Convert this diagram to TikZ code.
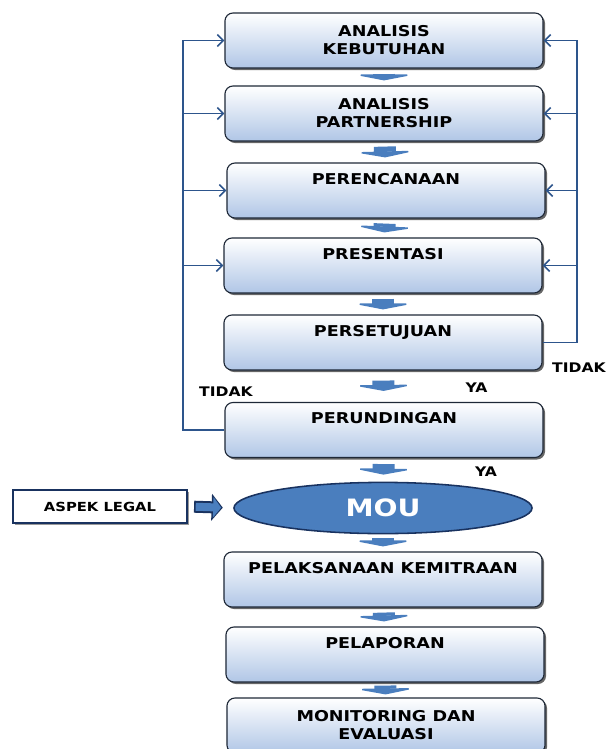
\documentclass[tikz,border=0pt]{standalone}
\usepackage{fontspec}
\setmainfont{DejaVu Sans}[FakeStretch=1.18]
\usetikzlibrary{arrows.meta,shadows,shapes.geometric}
\definecolor{garisbiru}{RGB}{45,85,140}
\definecolor{isibiru}{RGB}{74,126,190}
\definecolor{dasarbiru}{RGB}{176,198,230}
\definecolor{tepi}{RGB}{30,40,55}
\definecolor{tepimou}{RGB}{25,50,95}

\begin{document}
\begin{tikzpicture}[x=0.025cm, y=-0.025cm,
    proses/.style={rectangle, rounded corners=0.2cm, draw=tepi, line width=0.8pt,
        top color=white, bottom color=dasarbiru,
        minimum width=7.95cm, minimum height=1.375cm, align=center,
        font=\bfseries\fontsize{10.6}{12.8}\selectfont,
        drop shadow={shadow xshift=0.05cm, shadow yshift=-0.05cm, fill=black, opacity=0.6}},
    atas/.style={inner ysep=0pt, text height=0.53cm, text depth=0.845cm},
    mou/.style={ellipse, draw=tepimou, line width=1.1pt, fill=isibiru, text=white,
        minimum width=7.45cm, minimum height=1.28cm, inner sep=0pt,
        font=\bfseries\fontsize{17}{20}\selectfont},
    legal/.style={rectangle, draw=tepimou, line width=1.5pt, fill=white,
        minimum width=4.35cm, minimum height=0.825cm,
        font=\bfseries\fontsize{8.9}{10}\selectfont,
        drop shadow={shadow xshift=0.04cm, shadow yshift=-0.04cm, fill=black, opacity=0.4}},
    ket/.style={font=\bfseries\fontsize{9.4}{11}\selectfont},
    panah/.style={draw=isibiru, line width=0.55cm,
        -{Triangle[width=1.55cm,length=0.15cm]},
        shorten <=0.125cm, shorten >=0.125cm},
    balik/.style={draw=garisbiru, line width=1.1pt,
        -{Straight Barb[length=0.15cm,width=0.3cm]}},
    panahlegal/.style={draw=tepimou, line width=0.3cm,
        -{Triangle[width=0.66cm,length=0.28cm]},
        shorten <=0.15cm, shorten >=0.26cm,
        postaction={draw=isibiru, line width=0.2cm,
            -{Triangle[width=0.5cm,length=0.2cm]},
            shorten <=0.19cm, shorten >=0.3cm}}]
    \useasboundingbox (0,0) rectangle (606,749);
    % nodes
    \node[proses] (kebutuhan) at (384, 40.5) {ANALISIS\\KEBUTUHAN};
    \node[proses] (partnership) at (384, 113.5) {ANALISIS\\PARTNERSHIP};
    \node[proses, atas] (perencanaan) at (386, 190.5) {PERENCANAAN};
    \node[proses, atas] (presentasi) at (383, 265.5) {PRESENTASI};
    \node[proses, atas] (persetujuan) at (383, 342.5) {PERSETUJUAN};
    \node[proses, atas] (perundingan) at (384, 430) {PERUNDINGAN};
    \node[mou] (mou) at (383, 508) {MOU};
    \node[legal] (aspek) at (100, 506.5) {ASPEK LEGAL};
    \node[proses, atas] (pelaksanaan) at (383, 579.5) {PELAKSANAAN KEMITRAAN};
    \node[proses, atas] (pelaporan) at (385, 654.5) {PELAPORAN};
    \node[proses] (monitoring) at (386, 725.5) {MONITORING DAN\\EVALUASI};
    % labels
    \node[ket] (tidakkiri) at (226, 391.5) {TIDAK};
    \node[ket] (ya1) at (476.5, 387.5) {YA};
    \node[ket] (tidakkanan) at (579, 368) {TIDAK};
    \node[ket] (ya2) at (486, 472) {YA};
    \coordinate (kiri) at (183, 0);
    \coordinate (kanan) at (577, 0);
    % arrows
    \draw[panah] (kebutuhan) -- (partnership);
    \draw[panah] (partnership) -- (perencanaan);
    \draw[panah] (perencanaan) -- (presentasi);
    \draw[panah] (presentasi) -- (persetujuan);
    \draw[panah, shorten <=0.25cm, shorten >=0.275cm] (persetujuan) -- (perundingan);
    \draw[panah, shorten <=0.15cm, shorten >=0.175cm] (perundingan) -- (mou);
    \draw[panah, shorten <=0.1cm] (mou) -- (pelaksanaan);
    \draw[panah] (pelaksanaan) -- (pelaporan);
    \draw[panah, shorten <=0.075cm, shorten >=0.075cm] (pelaporan) -- (monitoring);
    \draw[panahlegal] (aspek.east) -- (mou.west);
    % feedback lines
    \draw[balik] (perundingan.west) -- (perundingan.west -| kiri)
        -- (kebutuhan.west -| kiri) -- (kebutuhan.west);
    \draw[balik] (partnership.west -| kiri) -- (partnership.west);
    \draw[balik] (perencanaan.west -| kiri) -- (perencanaan.west);
    \draw[balik] (presentasi.west -| kiri) -- (presentasi.west);
    \draw[balik] (persetujuan.east) -- (persetujuan.east -| kanan)
        -- (kebutuhan.east -| kanan) -- (kebutuhan.east);
    \draw[balik] (partnership.east -| kanan) -- (partnership.east);
    \draw[balik] (perencanaan.east -| kanan) -- (perencanaan.east);
    \draw[balik] (presentasi.east -| kanan) -- (presentasi.east);
\end{tikzpicture}
\end{document}
